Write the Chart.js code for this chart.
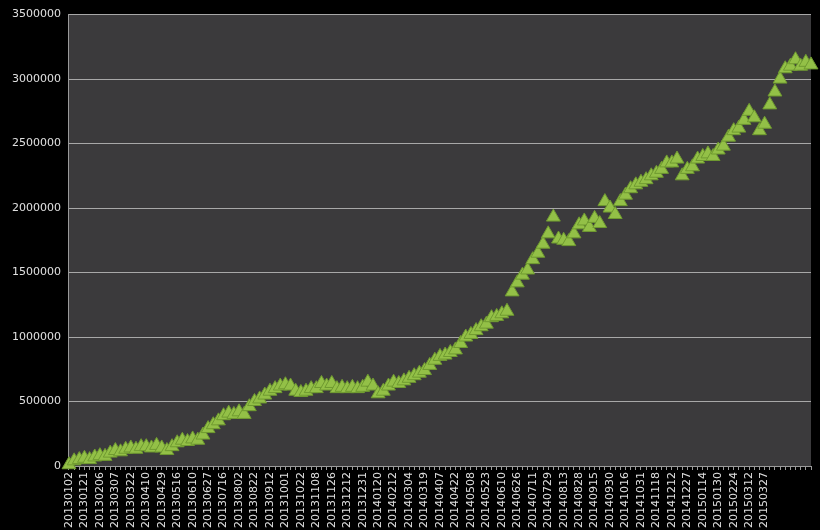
<!DOCTYPE html>
<html><head><meta charset="utf-8">
<script src="https://cdn.jsdelivr.net/npm/chart.js@4/dist/chart.umd.min.js"></script>
<style>html,body{margin:0;background:#000;}#w{width:820px;height:530px;}</style>
</head><body><div id="w"><canvas id="c"></canvas></div>
<script>
const tickLabels = ["20130102","20130121","20130206","20130307","20130322","20130410","20130429","20130516","20130610","20130627","20130716","20130802","20130822","20130912","20131001","20131022","20131108","20131126","20131212","20131231","20140120","20140212","20140304","20140319","20140407","20140422","20140508","20140523","20140610","20140626","20140711","20140729","20140813","20140828","20140915","20140930","20141016","20141031","20141118","20141212","20141227","20150114","20150130","20150224","20150312","20150327"];
const values = [
10000,40000,50000, 60000,50000,70000, 80000,75000,100000, 120000,110000,130000,
140000,130000,150000, 150000,140000,160000, 140000,120000,150000, 180000,200000,190000,
210000,200000,240000, 290000,320000,350000, 390000,410000,400000, 420000,400000,460000,
500000,520000,550000, 580000,600000,620000, 630000,620000,580000, 570000,580000,600000,
600000,640000,620000, 640000,600000,610000, 600000,610000,600000, 610000,650000,620000,
560000,580000,620000, 650000,640000,660000, 680000,700000,720000, 740000,780000,820000,
850000,860000,880000, 900000,950000,1000000, 1020000,1050000,1080000, 1100000,1150000,1160000,
1180000,1200000,1350000, 1420000,1480000,1520000, 1600000,1650000,1720000, 1800000,1930000,1760000,
1750000,1740000,1800000, 1870000,1900000,1850000, 1920000,1880000,2050000, 2000000,1950000,2050000,
2100000,2150000,2180000, 2200000,2220000,2250000, 2270000,2300000,2350000, 2350000,2380000,2250000,
2300000,2320000,2380000, 2400000,2420000,2400000, 2450000,2480000,2550000, 2600000,2620000,2680000,
2750000,2700000,2600000, 2650000,2800000,2900000, 3000000,3080000,3100000,
3150000,3100000,3130000,3110000];
const yTicks = [0,500000,1000000,1500000,2000000,2500000,3000000,3500000];

const labels = values.map((v,i)=> (i%3===0 && tickLabels[i/3]) ? tickLabels[i/3] : '');
const bgPlugin = {id:'bg', beforeDraw(ch){const a=ch.chartArea,c=ch.ctx;c.save();c.fillStyle='#3b3a3c';c.fillRect(a.left,a.top,a.right-a.left,a.bottom-a.top);c.restore();}};
new Chart(document.getElementById('c'), {
  type:'line',
  data:{labels, datasets:[{data:values, showLine:false, pointStyle:'triangle', pointRadius:8,
    pointBackgroundColor:'#93c047', pointBorderColor:'#6f9a30', pointBorderWidth:1, clip:false}]},
  options:{responsive:true, maintainAspectRatio:false, animation:false,
    layout:{padding:{top:6,right:0,left:4,bottom:0}},
    plugins:{legend:{display:false}, tooltip:{enabled:false}},
    scales:{
      x:{offset:false, grid:{display:true, drawOnChartArea:false, color:'#9a9a9a', tickLength:4},
         border:{color:'#9a9a9a'},
         afterFit(ax){ax.paddingRight=0;},
         ticks:{autoSkip:false, maxRotation:90, minRotation:90, color:'#e0e0e0', font:{family:'DejaVu Sans', size:11}, padding:2,
           callback:function(v,i){return labels[i];}}},
      y:{min:0,max:3500000, afterBuildTicks(ax){ax.ticks=yTicks.map(v=>({value:v}));},
         grid:{color:'#a8a8a8', drawTicks:false}, border:{color:'#9a9a9a'},
         ticks:{color:'#e0e0e0', padding:8, font:{family:'DejaVu Sans', size:11}, callback:v=>String(v)}}
    }},
  plugins:[bgPlugin]
});
</script></body></html>
